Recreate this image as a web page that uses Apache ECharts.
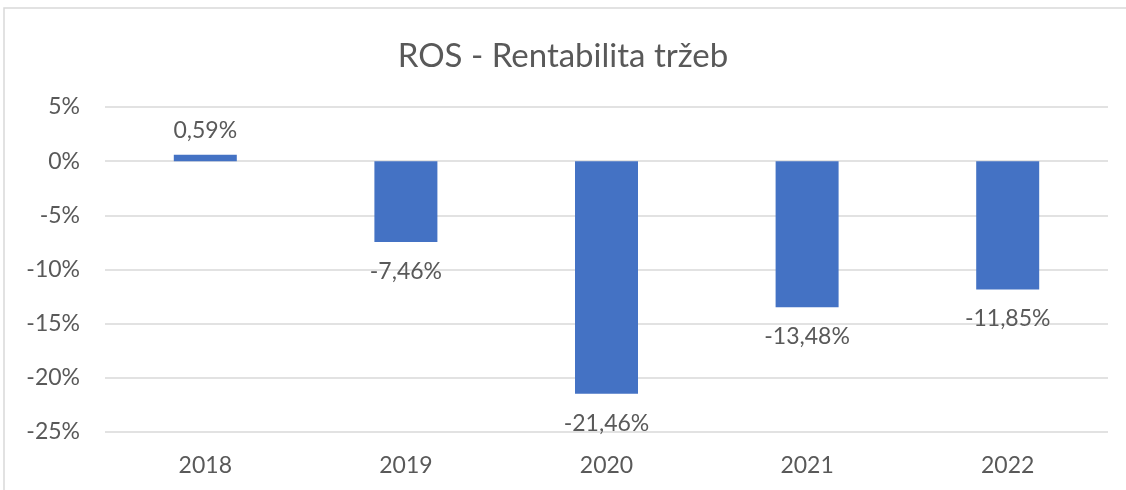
<!DOCTYPE html>
<html>
<head>
<meta charset="utf-8">
<script src="https://cdn.jsdelivr.net/npm/echarts@6/dist/echarts.min.js"></script>
<style>
html, body { margin: 0; padding: 0; background: #fff; }
#main { width: 1126px; height: 490px; }
</style>
</head>
<body>
<div id="main"></div>
<script>
var chart = echarts.init(document.getElementById('main'));
var years = ['2018', '2019', '2020', '2021', '2022'];
var rosValues = [0.59, -7.46, -21.46, -13.48, -11.85];
var yTicks = { min: -25, max: 5, step: 5 };

var fontName = 'Lato';
var textGrey = '#595959';

function pct(v) {
    return v.toFixed(2).replace('.', ',') + '%';
}

// positive value -> label above the bar, negative -> below
var barData = rosValues.map(function (v) {
    return {
        value: v,
        label: v >= 0 ? { position: 'top', distance: 13 } : { position: 'bottom', distance: 18 }
    };
});

option = {
    backgroundColor: '#ffffff',
    animation: false,
    title: {
        text: 'ROS - Rentabilita tržeb',
        left: 'center',
        top: 35,
        textStyle: {
            color: textGrey,
            fontFamily: fontName,
            fontSize: 33,
            fontWeight: 'normal'
        }
    },
    graphic: [{
        type: 'rect',
        shape: { x: 4, y: 8, width: 1140, height: 520 },
        style: { fill: 'none', stroke: '#d9d9d9', lineWidth: 1.5 },
        silent: true
    }],
    grid: {
        left: 105,
        right: 18,
        top: 107,
        bottom: 58
    },
    xAxis: {
        type: 'category',
        data: years,
        axisLine: { show: false },
        axisTick: { show: false },
        axisLabel: {
            color: textGrey,
            fontFamily: fontName,
            fontSize: 23,
            margin: 22
        }
    },
    yAxis: {
        type: 'value',
        min: yTicks.min,
        max: yTicks.max,
        interval: yTicks.step,
        axisLine: { show: false },
        axisTick: { show: false },
        splitLine: { lineStyle: { color: '#d9d9d9', width: 1.5 } },
        axisLabel: {
            color: textGrey,
            fontFamily: fontName,
            fontSize: 23,
            margin: 25,
            formatter: function (v) { return v + '%'; }
        }
    },
    series: [{
        type: 'bar',
        data: barData,
        barWidth: 63,
        itemStyle: { color: '#4472c4' },
        label: {
            show: true,
            color: textGrey,
            fontFamily: fontName,
            fontSize: 23,
            formatter: function (p) { return pct(p.value); }
        }
    }]
};

chart.setOption(option);
</script>
</body>
</html>
